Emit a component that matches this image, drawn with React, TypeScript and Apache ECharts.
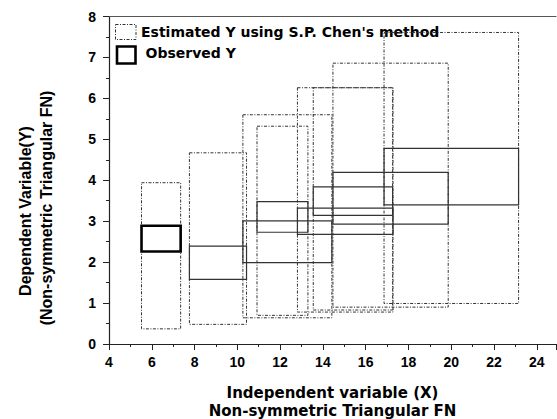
import React, { useEffect, useRef } from "react";
import * as echarts from "echarts";

// Interval X (shared by the estimated and observed boxes)
const xLow = [5.52, 7.76, 10.26, 10.92, 12.81, 13.55, 14.47, 16.86];
const xHigh = [7.35, 10.43, 14.42, 13.3, 17.28, 17.26, 19.86, 23.15];
// Observed Y intervals
const obsLow = [2.26, 1.58, 1.99, 2.73, 2.68, 3.14, 2.93, 3.4];
const obsHigh = [2.89, 2.39, 3.01, 3.48, 3.32, 3.84, 4.19, 4.78];
// Estimated Y (S.P. Chen's method) intervals
const estLow = [0.37, 0.48, 0.64, 0.7, 0.78, 0.83, 0.9, 0.99];
const estHigh = [3.94, 4.67, 5.6, 5.32, 6.26, 6.26, 6.86, 7.61];

const legendEstimated = "Estimated Y using S.P. Chen's method";
const legendObserved = "Observed Y";
const xTitle = "Independent variable (X)\nNon-symmetric Triangular FN";
const yTitle1 = "Dependent Variable(Y)";
const yTitle2 = "(Non-symmetric Triangular FN)";

const DASHDOT = [3, 1.5, 1, 1.5];
const BOLD_WIDE = "DejaVu Sans";
const ARIAL = "'Liberation Sans', Arial, sans-serif";

export default function App() {
  const ref = useRef<HTMLDivElement>(null);
  useEffect(() => {
    document.body.style.margin = "0";
    if (!ref.current) return;
    const chart = echarts.init(ref.current, undefined, { renderer: "svg" });

    const estData = xLow.map((x, i) => [x, xHigh[i], estLow[i], estHigh[i]]);
    const obsData = xLow.map((x, i) => [x, xHigh[i], obsLow[i], obsHigh[i]]);

    const makeRender = (kind: "est" | "obs") => (params: any, api: any) => {
      const p0 = api.coord([api.value(0), api.value(3)]);
      const p1 = api.coord([api.value(1), api.value(2)]);
      let style: any;
      if (kind === "est") {
        style = { fill: "none", stroke: "#333", lineWidth: 1, lineDash: DASHDOT };
      } else {
        const first = params.dataIndex === 0;
        style = { fill: "none", stroke: first ? "#000" : "#333", lineWidth: first ? 2.6 : 1.2 };
      }
      return {
        type: "rect",
        shape: { x: p0[0], y: p0[1], width: p1[0] - p0[0], height: p1[1] - p0[1] },
        style,
      };
    };

    chart.setOption({
      animation: false,
      backgroundColor: "#fff",
      grid: {
        left: 109,
        right: 1,
        top: 16.5,
        bottom: 75,
        containLabel: false,
        outerBoundsMode: "none",
      },
      xAxis: [
        {
          type: "value",
          min: 4,
          max: 24.9,
          interval: 2,
          position: "bottom",
          axisLine: { show: true, lineStyle: { color: "#222", width: 1.2 } },
          axisTick: { show: true, inside: false, length: 6, lineStyle: { color: "#222" } },
          minorTick: { show: true, splitNumber: 2, length: 3, lineStyle: { color: "#222" } },
          splitLine: { show: false },
          minorSplitLine: { show: false },
          axisLabel: {
            margin: 11,
            color: "#000",
            fontWeight: "bold",
            fontSize: 14,
            fontFamily: ARIAL,
            showMaxLabel: false,
          },
          name: xTitle,
          nameLocation: "middle",
          nameGap: 40,
          nameTextStyle: {
            color: "#000",
            fontWeight: "bold",
            fontSize: 15,
            fontFamily: BOLD_WIDE,
            lineHeight: 18,
          },
        },
        {
          type: "value",
          min: 4,
          max: 24.9,
          position: "top",
          axisLine: { show: true, lineStyle: { color: "#555", width: 1.2 } },
          axisTick: { show: false },
          axisLabel: { show: false },
          splitLine: { show: false },
        },
      ],
      yAxis: {
        type: "value",
        min: 0,
        max: 8,
        interval: 1,
        axisLine: { show: true, lineStyle: { color: "#222", width: 1.2 } },
        axisTick: { show: true, inside: false, length: 6, lineStyle: { color: "#222" } },
        minorTick: { show: true, splitNumber: 2, length: 3, lineStyle: { color: "#222" } },
        splitLine: { show: false },
        axisLabel: {
          margin: 13,
          color: "#000",
          fontWeight: "bold",
          fontSize: 14,
          fontFamily: ARIAL,
        },
      },
      graphic: [
        {
          type: "text",
          x: 25,
          y: 211,
          rotation: Math.PI / 2,
          style: {
            text: yTitle1,
            align: "center",
            verticalAlign: "middle",
            fill: "#000",
            font: "bold 16px " + ARIAL,
          },
        },
        {
          type: "text",
          x: 46,
          y: 208,
          rotation: Math.PI / 2,
          style: {
            text: yTitle2,
            align: "center",
            verticalAlign: "middle",
            fill: "#000",
            font: "bold 16px " + ARIAL,
          },
        },
        {
          type: "rect",
          shape: { x: 115.5, y: 24.5, width: 20.5, height: 15 },
          style: { fill: "none", stroke: "#333", lineWidth: 1, lineDash: DASHDOT },
        },
        {
          type: "text",
          x: 141,
          y: 31.5,
          style: {
            text: legendEstimated,
            align: "left",
            verticalAlign: "middle",
            fill: "#000",
            font: "bold 14px '" + BOLD_WIDE + "'",
          },
        },
        {
          type: "rect",
          shape: { x: 117, y: 46.5, width: 18.5, height: 17 },
          style: { fill: "none", stroke: "#000", lineWidth: 2.6 },
        },
        {
          type: "text",
          x: 145.5,
          y: 53,
          style: {
            text: legendObserved,
            align: "left",
            verticalAlign: "middle",
            fill: "#000",
            font: "bold 14px '" + BOLD_WIDE + "'",
          },
        },
      ],
      series: [
        {
          type: "custom",
          name: "Estimated",
          renderItem: makeRender("est"),
          encode: { x: [0, 1], y: [2, 3] },
          data: estData,
          silent: true,
        },
        {
          type: "custom",
          name: "Observed",
          renderItem: makeRender("obs"),
          encode: { x: [0, 1], y: [2, 3] },
          data: obsData,
          silent: true,
        },
      ],
    });
    return () => chart.dispose();
  }, []);
  return (
    <div
      ref={ref}
      style={{ position: "absolute", left: 0, top: 0, width: 557, height: 419 }}
    />
  );
}
